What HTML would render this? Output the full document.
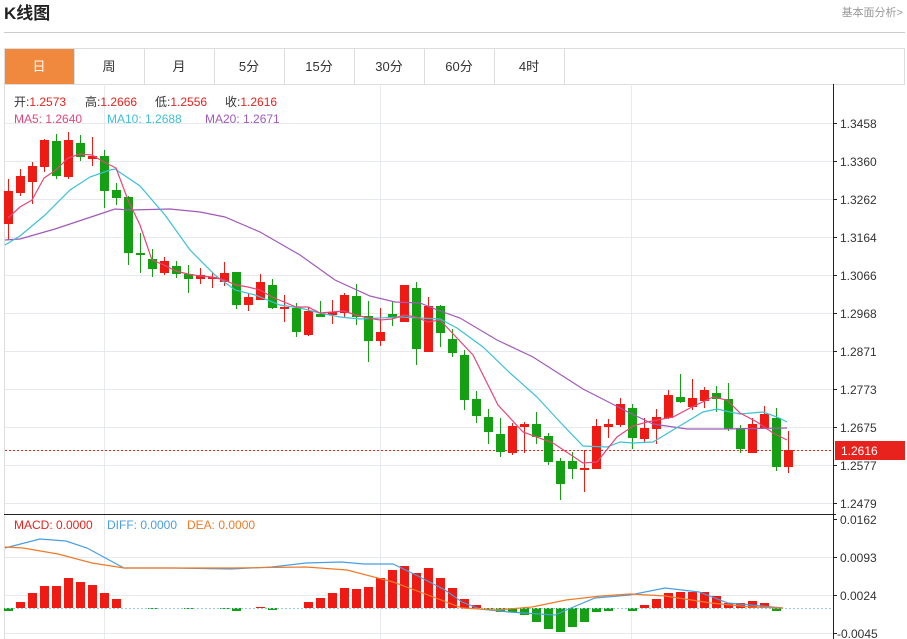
<!DOCTYPE html>
<html><head><meta charset="utf-8"><style>
body{margin:0;width:907px;height:639px;background:#fff;overflow:hidden;font-family:"Liberation Sans","Noto Sans CJK SC",sans-serif;}
svg{position:absolute;left:0;top:0}
</style></head><body>
<svg width="907" height="639" xmlns="http://www.w3.org/2000/svg" font-family="Liberation Sans, Noto Sans CJK SC, sans-serif">
<text x="4" y="19" font-size="17" font-weight="bold" fill="#222">K线图</text>
<text x="903" y="16" font-size="11" fill="#999" text-anchor="end">基本面分析&gt;</text>
<line x1="4" y1="32.5" x2="905" y2="32.5" stroke="#ccc"/>
<rect x="4.5" y="48.5" width="900" height="36" fill="#fff" stroke="#ddd"/>
<rect x="5" y="49" width="69" height="35" fill="#f0893d"/>
<g stroke="#ddd"><line x1="74.5" y1="49" x2="74.5" y2="84"/><line x1="144.5" y1="49" x2="144.5" y2="84"/><line x1="214.5" y1="49" x2="214.5" y2="84"/><line x1="284.5" y1="49" x2="284.5" y2="84"/><line x1="354.5" y1="49" x2="354.5" y2="84"/><line x1="424.5" y1="49" x2="424.5" y2="84"/><line x1="494.5" y1="49" x2="494.5" y2="84"/><line x1="564.5" y1="49" x2="564.5" y2="84"/></g>
<g font-size="13" text-anchor="middle" fill="#333"><text x="39" y="71" fill="#fff">日</text><text x="109" y="71">周</text><text x="179" y="71">月</text><text x="249" y="71">5分</text><text x="319" y="71">15分</text><text x="389" y="71">30分</text><text x="459" y="71">60分</text><text x="529" y="71">4时</text></g>
<line x1="4.5" y1="84" x2="4.5" y2="639" stroke="#ddd"/>
<g stroke="#e6e9ee"><line x1="5" y1="123.5" x2="833" y2="123.5"/><line x1="5" y1="161.5" x2="833" y2="161.5"/><line x1="5" y1="199.5" x2="833" y2="199.5"/><line x1="5" y1="237.5" x2="833" y2="237.5"/><line x1="5" y1="275.5" x2="833" y2="275.5"/><line x1="5" y1="313.5" x2="833" y2="313.5"/><line x1="5" y1="351.5" x2="833" y2="351.5"/><line x1="5" y1="389.5" x2="833" y2="389.5"/><line x1="5" y1="427.5" x2="833" y2="427.5"/><line x1="5" y1="465.5" x2="833" y2="465.5"/><line x1="5" y1="503.5" x2="833" y2="503.5"/>
<line x1="5" y1="557.5" x2="833" y2="557.5"/><line x1="5" y1="595.5" x2="833" y2="595.5"/><line x1="5" y1="633.5" x2="833" y2="633.5"/>
<line x1="104.5" y1="84" x2="104.5" y2="639"/><line x1="380.5" y1="84" x2="380.5" y2="639"/><line x1="631.5" y1="84" x2="631.5" y2="639"/></g>
<line x1="833.5" y1="84" x2="833.5" y2="639" stroke="#222"/>
<line x1="4" y1="514.5" x2="836" y2="514.5" stroke="#222"/>
<g stroke="#222"><line x1="833" y1="123.5" x2="837" y2="123.5"/><line x1="833" y1="161.5" x2="837" y2="161.5"/><line x1="833" y1="199.5" x2="837" y2="199.5"/><line x1="833" y1="237.5" x2="837" y2="237.5"/><line x1="833" y1="275.5" x2="837" y2="275.5"/><line x1="833" y1="313.5" x2="837" y2="313.5"/><line x1="833" y1="351.5" x2="837" y2="351.5"/><line x1="833" y1="389.5" x2="837" y2="389.5"/><line x1="833" y1="427.5" x2="837" y2="427.5"/><line x1="833" y1="465.5" x2="837" y2="465.5"/><line x1="833" y1="503.5" x2="837" y2="503.5"/><line x1="833" y1="519.5" x2="837" y2="519.5"/><line x1="833" y1="557.5" x2="837" y2="557.5"/><line x1="833" y1="595.5" x2="837" y2="595.5"/><line x1="833" y1="633.5" x2="837" y2="633.5"/></g>
<g font-size="12" fill="#333"><text x="840" y="128">1.3458</text><text x="840" y="166">1.3360</text><text x="840" y="204">1.3262</text><text x="840" y="242">1.3164</text><text x="840" y="280">1.3066</text><text x="840" y="318">1.2968</text><text x="840" y="356">1.2871</text><text x="840" y="394">1.2773</text><text x="840" y="432">1.2675</text><text x="840" y="470">1.2577</text><text x="840" y="508">1.2479</text><text x="840" y="524">0.0162</text><text x="840" y="562">0.0093</text><text x="840" y="600">0.0024</text><text x="837" y="638">-0.0045</text></g>
<g font-size="12" fill="#333">
<text x="14" y="106">开:<tspan fill="#e8221c">1.2573</tspan></text>
<text x="85" y="106">高:<tspan fill="#e8221c">1.2666</tspan></text>
<text x="155" y="106">低:<tspan fill="#e8221c">1.2556</tspan></text>
<text x="225" y="106">收:<tspan fill="#e8221c">1.2616</tspan></text>
<text x="14" y="123" fill="#e6457a">MA5: 1.2640</text>
<text x="107" y="123" fill="#3cc0d6">MA10: 1.2688</text>
<text x="205" y="123" fill="#a05ab8">MA20: 1.2671</text>
<text x="14" y="529" fill="#e8221c">MACD: 0.0000</text>
<text x="107" y="529" fill="#4a9ee0">DIFF: 0.0000</text>
<text x="187" y="529" fill="#f07a28">DEA: 0.0000</text>
</g>
<line x1="5" y1="450.5" x2="833" y2="450.5" stroke="#e8221c" stroke-dasharray="2,2"/>
<rect x="835" y="441" width="70" height="19" fill="#e8221c"/>
<text x="841" y="455" font-size="12" fill="#fff">1.2616</text>
<g id="candles"></g>
<g id="macd"></g>
<line x1="5" y1="608.5" x2="833" y2="608.5" stroke="#9cc9ea" stroke-dasharray="2,2"/>
<polyline fill="none" stroke="#a05ab8" stroke-width="1.2" points="5,240 20,239 55,229 100,214 115,209 130,210 170,209 200,212 225,217 260,232 300,255 335,280 370,296 395,302 420,303 440,311 460,318 497,340 533,357 583,389 630,413 653,424 687,429 723,429 787,428"/>
<polyline fill="none" stroke="#3cc0d6" stroke-width="1.2" points="5,245 20,236 45,215 70,190 90,177 110,170 115,169 140,186 165,215 190,250 215,275 235,290 255,295 280,305 300,308 320,313 340,317 360,319 380,318 400,317 420,318 440,319 457,328 483,347 510,373 537,397 560,422 583,446 607,447 620,442 633,443 653,442 673,430 703,412 717,409 730,412 740,414 763,412 777,417 787,422"/>
<polyline fill="none" stroke="#e6457a" stroke-width="1.2" points="8,218 20,207 32,200 44,178 56,170 68,158 80,154 92,155 104,162 116,168 128,200 140,225 152,260 164,265 176,271 188,274 200,276 212,277 224,280 236,285 248,287 260,290 272,297 284,302 296,307 308,307 320,313 332,312 344,311 356,315 368,318 380,320 392,319 404,315 416,317 428,322 440,320 473,355 498,405 523,432 553,443 583,463 597,462 617,437 633,426 647,422 673,417 690,408 713,397 727,400 740,413 757,422 773,433 787,440"/>
<polyline fill="none" stroke="#4a9ee0" stroke-width="1.2" points="5,548 40,539 66,541 87,548 124,568 173,568 231,569 272,567 306,563 341,562 364,564 393,564 416,575 445,590 462,602 480,609 509,612 555,615 578,605 595,598 630,595 665,588 699,592 728,603 751,605 783,608"/>
<polyline fill="none" stroke="#f07a28" stroke-width="1.2" points="5,547 23,548 58,554 92,563 124,568 231,568 306,567 347,570 393,582 428,595 462,608 497,610 532,607 566,600 601,596 630,594 665,596 711,603 751,607 783,608"/>
</svg>
<script>
var C=[[191,224,179,240,'r'],[176,193,169,196,'r'],[166,182,162,204,'r'],[140,167,139,172,'r'],[141,176,134,179,'g'],[140,177,132,179,'r'],[143,157,135,161,'g'],[156,159,137,166,'r'],[156,191,150,208,'g'],[190,198,183,205,'g'],[197,253,196,265,'g'],[253,255,233,273,'g'],[259,269,249,277,'g'],[261,273,257,275,'r'],[266,274,261,278,'g'],[274,279,265,293,'g'],[275,279,268,284,'r'],[277,279,272,288,'r'],[273,282,262,286,'r'],[272,305,272,309,'g'],[297,305,293,311,'r'],[282,300,274,300,'r'],[285,308,279,309,'g'],[307,309,295,322,'r'],[308,332,303,337,'g'],[311,335,307,336,'r'],[314,317,301,317,'g'],[312,315,300,324,'r'],[295,313,293,317,'r'],[296,317,284,325,'g'],[316,341,301,362,'g'],[332,341,308,346,'r'],[314,317,301,326,'g'],[285,322,285,322,'r'],[288,349,282,365,'g'],[306,352,297,352,'r'],[306,333,305,347,'g'],[339,353,329,357,'g'],[355,400,350,410,'g'],[399,416,391,423,'g'],[417,432,409,444,'g'],[434,452,418,457,'g'],[426,453,423,455,'r'],[424,427,422,453,'r'],[424,437,412,444,'g'],[436,462,433,465,'g'],[461,484,458,500,'g'],[461,469,452,479,'g'],[468,470,450,492,'r'],[426,469,419,469,'r'],[424,427,419,438,'r'],[404,425,398,427,'r'],[408,438,404,449,'g'],[428,439,418,442,'r'],[417,429,409,444,'r'],[395,418,390,419,'r'],[397,402,374,403,'g'],[398,407,379,410,'r'],[390,401,387,408,'r'],[393,399,386,412,'g'],[399,429,383,431,'g'],[428,449,425,453,'g'],[424,453,418,453,'r'],[414,428,406,428,'r'],[418,467,408,471,'g'],[450,467,431,473,'r']];
var g=document.getElementById('candles'),s='';
C.forEach(function(c,i){var x=8+12*i,col=c[4]=='r'?'#ee1b14':'#14a012';s+='<line x1="'+(x+.5)+'" y1="'+c[2]+'" x2="'+(x+.5)+'" y2="'+c[3]+'" stroke="'+col+'"/><rect x="'+(x-4)+'" y="'+c[0]+'" width="9" height="'+Math.max(1.5,c[1]-c[0])+'" fill="'+col+'"/>';});
g.innerHTML=s;
var M={0:-3,1:6,2:15,3:22,4:22,5:30,6:26,7:23,8:15,9:9,12:-1,15:-1,18:-1,19:-3,21:1,22:-2,25:6,26:10,27:15,28:20,29:19,30:21,31:30,32:38,33:42,34:35,35:40,36:30,37:20,38:9,39:3,40:-1,41:-4,42:-4,43:-7,44:-14,45:-21,46:-24,47:-19,48:-14,49:-4,50:-3,52:-3,53:3,54:9,55:15,56:16,57:16,58:16,59:12,60:5,61:5,62:7,63:5,64:-3};
s='';for(var k in M){var v=M[k],x=8+12*k,col=v>0?'#ee1b14':'#14a012';s+='<rect x="'+(x-4)+'" y="'+(v>0?608-v:608)+'" width="9" height="'+Math.abs(v)+'" fill="'+col+'"/>';}
document.getElementById('macd').innerHTML=s;
</script>
</body></html>
